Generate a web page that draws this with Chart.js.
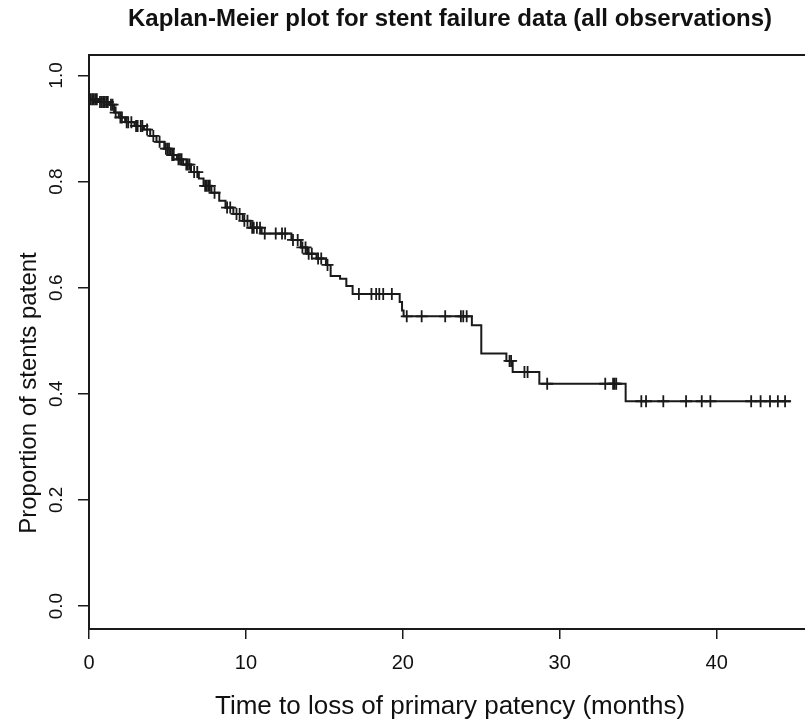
<!DOCTYPE html>
<html><head><meta charset="utf-8">
<script src="https://cdn.jsdelivr.net/npm/chart.js@4.4.1/dist/chart.umd.min.js"></script>
<style>html,body{margin:0;padding:0;background:#fff;overflow:hidden}#wrap{width:805px;height:723px;position:relative}</style>
</head><body><div id="wrap"><canvas id="c" width="805" height="723"></canvas></div>
<script>
// ---- data ----
const eventTimes = [0, 0.6, 1.3, 1.6, 1.9, 2.3, 2.9, 3.5, 3.9, 4.3, 4.8, 5.2, 5.6, 6.0, 6.5, 7.0, 7.3, 7.8, 8.3, 8.7, 9.2, 9.8, 10.3, 11.0, 12.9, 13.5, 13.9, 14.5, 15.1, 15.4, 16.0, 16.4, 16.8, 19.8, 19.95, 20.05, 24.4, 25.0, 26.6, 27.0, 28.7, 34.2];
const survival   = [0.955, 0.950, 0.945, 0.930, 0.921, 0.912, 0.905, 0.898, 0.886, 0.875, 0.862, 0.850, 0.842, 0.832, 0.818, 0.806, 0.792, 0.779, 0.764, 0.751, 0.739, 0.726, 0.713, 0.702, 0.690, 0.676, 0.664, 0.655, 0.643, 0.622, 0.617, 0.603, 0.588, 0.573, 0.557, 0.546, 0.529, 0.476, 0.462, 0.441, 0.419, 0.386];
const followUpEnd = 44.7;
const censorTimes = [0.1, 0.2, 0.3, 0.4, 0.5, 0.7, 0.8, 0.9, 1.0, 1.1, 1.2, 1.4, 1.5, 1.7, 2.0, 2.1, 2.4, 2.5, 2.7, 3.0, 3.1, 3.3, 3.4, 3.7, 4.1, 4.5, 4.9, 5.0, 5.1, 5.3, 5.4, 5.7, 5.8, 5.9, 6.2, 6.3, 6.4, 6.7, 6.9, 7.4, 7.5, 7.6, 7.7, 8.0, 8.8, 9.0, 9.4, 9.6, 9.9, 10.1, 10.4, 10.5, 10.7, 10.9, 11.2, 11.9, 12.3, 12.5, 13.0, 13.3, 13.6, 13.8, 14.0, 14.2, 14.6, 14.8, 15.2, 17.2, 18.0, 18.3, 18.5, 18.75, 19.3, 20.25, 21.2, 22.7, 23.7, 23.85, 24.07, 26.8, 26.9, 27.75, 27.95, 29.2, 32.9, 33.4, 33.5, 33.6, 35.2, 35.5, 36.6, 38.05, 39.05, 39.6, 42.2, 42.8, 43.4, 43.9, 44.36];
const xTicks = [0, 10, 20, 30, 40];
const yTicks = [0, 0.2, 0.4, 0.6, 0.8, 1.0];
const yTickLabels = ['0.0', '0.2', '0.4', '0.6', '0.8', '1.0'];
const titleText = 'Kaplan-Meier plot for stent failure data (all observations)';
const xLabel = 'Time to loss of primary patency (months)';
const yLabel = 'Proportion of stents patent';

// ---- build chart ----
function survAt(t) {
  let s = survival[0];
  for (let i = 0; i < eventTimes.length; i++) if (eventTimes[i] <= t) s = survival[i];
  return s;
}
const lineData = eventTimes.map((t, i) => ({x: t, y: survival[i]}));
lineData.push({x: followUpEnd, y: survival[survival.length - 1]});
const censorData = censorTimes.map(t => ({x: t, y: survAt(t)}));

const INK = '#1a1a1a';
const FONT = '"Liberation Sans", Arial, sans-serif';

const decor = {
  id: 'decor',
  afterDraw(chart) {
    const {ctx, chartArea: a, scales: {x, y}} = chart;
    ctx.save();
    ctx.strokeStyle = INK; ctx.lineWidth = 2;
    ctx.beginPath(); ctx.moveTo(a.left - 1, a.top); ctx.lineTo(a.right, a.top); ctx.stroke();
    ctx.fillStyle = '#111';
    ctx.textAlign = 'center'; ctx.textBaseline = 'middle';
    ctx.font = 'bold 24px ' + FONT;
    ctx.fillText(titleText, 450, 19);
    ctx.font = '26px ' + FONT;
    ctx.fillText(xLabel, 450, 707);
    ctx.save();
    ctx.font = '24px ' + FONT;
    ctx.translate(29, 393); ctx.rotate(-Math.PI / 2);
    ctx.fillText(yLabel, 0, 0);
    ctx.restore();
    ctx.font = '19px ' + FONT;
    yTicks.forEach((v, i) => {
      const py = y.getPixelForValue(v);
      ctx.save(); ctx.translate(57, py); ctx.rotate(-Math.PI / 2);
      ctx.fillText(yTickLabels[i], 0, 0);
      ctx.restore();
    });
    ctx.restore();
  }
};

new Chart(document.getElementById('c'), {
  type: 'line',
  data: {
    datasets: [
      {data: lineData, stepped: true, borderColor: INK, borderWidth: 2, pointRadius: 0, fill: false, order: 2},
      {data: censorData, showLine: false, pointStyle: 'cross', pointRadius: 6, pointBorderWidth: 1.8, borderColor: INK, backgroundColor: INK, order: 1}
    ]
  },
  options: {
    responsive: false, animation: false, events: [],
    layout: {autoPadding: false, padding: {top: 55, left: 0, right: 0, bottom: 0}},
    plugins: {legend: {display: false}, tooltip: {enabled: false}},
    scales: {
      x: {
        type: 'linear', min: 0, max: 45.63,
        afterBuildTicks: s => { s.ticks = xTicks.map(v => ({value: v})); },
        afterFit: s => { s.height = 94; },
        grid: {display: true, drawOnChartArea: false, drawTicks: true, tickLength: 10, color: INK, lineWidth: 1.5},
        border: {display: true, color: INK, width: 2},
        ticks: {color: '#111', font: {family: FONT, size: 20}, padding: 12, maxRotation: 0, callback: v => String(v)}
      },
      y: {
        type: 'linear', min: -0.0433, max: 1.0386,
        afterBuildTicks: s => { s.ticks = yTicks.map(v => ({value: v})); },
        afterFit: s => { s.width = 89; },
        grid: {display: true, drawOnChartArea: false, drawTicks: true, tickLength: 11, color: INK, lineWidth: 1.5},
        border: {display: true, color: INK, width: 2},
        ticks: {display: false}
      }
    }
  },
  plugins: [decor]
});
</script></body></html>
